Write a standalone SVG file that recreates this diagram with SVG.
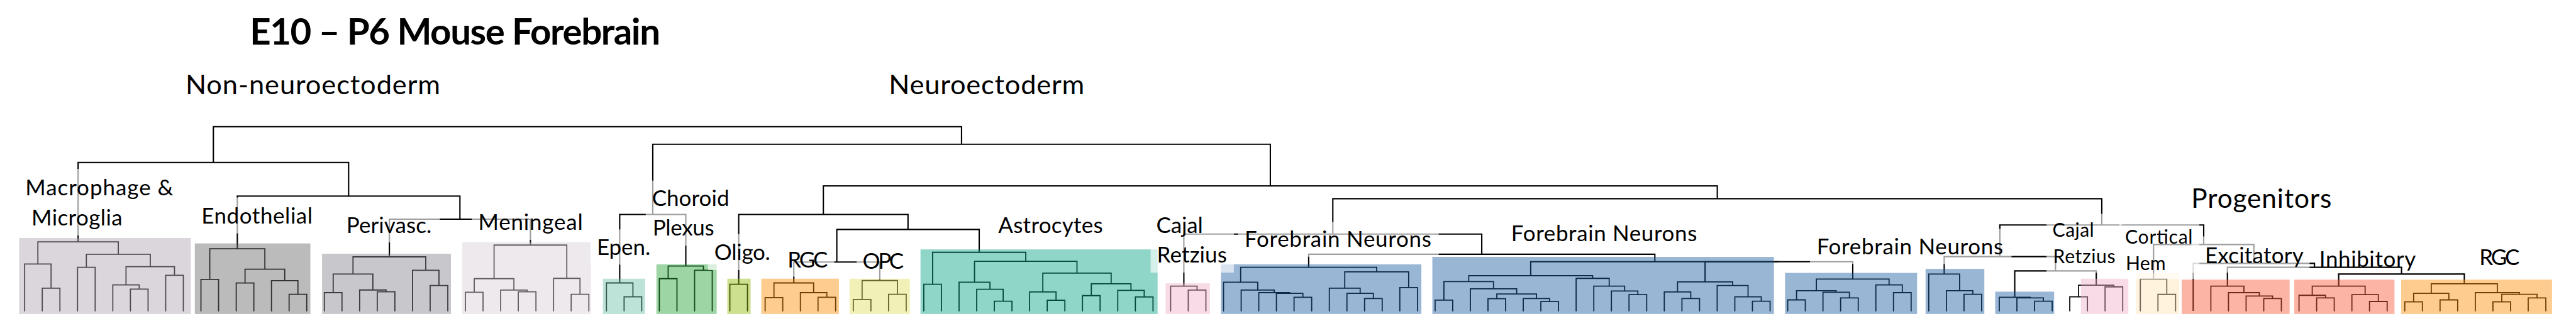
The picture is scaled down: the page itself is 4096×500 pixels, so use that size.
<svg xmlns="http://www.w3.org/2000/svg" width="4096" height="500" viewBox="0 0 4096 500">
<style>
.t{font-family:Lato,"Liberation Sans",sans-serif;font-size:66px;fill:#000}
.ts{font-size:57px}
.cn{fill:none;stroke:#000;stroke-width:4}
.ln{fill:none;stroke:#000;stroke-width:3.4;stroke-linecap:round}
.b{fill-opacity:0.45}
.tb{fill:#fff;fill-opacity:0.62}
</style>
<rect width="4096" height="500" fill="#fff"/>
<g transform="scale(0.52954)">
<g id="connectors" class="cn">
<path d="M640.7 488.6V381H2887.3V433.8"/>
<path d="M234.5 727.4V488.6H1046.8V589.6"/>
<path d="M712.6 748V589.6H1381V659"/>
<path d="M1169.2 772.4V659H1592.8V737"/>
<path d="M1960.1 645V433.8H3814.5V559"/>
<path d="M1860.8 850.7V645H2059.3V800"/>
<path d="M2472.3 645V559H5156.6V597.4"/>
<path d="M2218.1 854.7V645H2726.5V690"/>
<path d="M2512.7 788V690H2940.3V758.7"/>
<path d="M2383.6 850.7V788H2641.7V843.7"/>
<path d="M4002.1 704V597.4H6311.1V676.5"/>
<path d="M3554.8 860.5V704H4449.3V764.6"/>
<path d="M3929.6 803.8V764.6H4969V787"/>
<path d="M4596.3 829V787H5341.6"/>
<path d="M5119.9 847.6V787H5563.3V839"/>
<path d="M6005 771.7V676.5H6617.1V735.3"/>
<path d="M5837.9 824V771.7H6172.1V814.7"/>
<path d="M6049.7 893.8V814.7H6294.5V857.4"/>
<path d="M6466.5 839V735.3H6767.7V792"/>
<path d="M6585.6 935V792H6949.7V803.8"/>
<path d="M6688.3 860.5V803.8H7211.1V824"/>
<path d="M7022.4 860.5V824H7399.7V853.5"/>
</g>
<g id="macrophage">
<path class="ln" d="M126.9 935V866.4H179.9V935M74 935V794H153.4V866.4M232.8 935V803.8H285.8V935M391.6 935V869.5H444.6V935M338.7 935V856.6H418.1V869.5M497.5 935V828H550.5V935M378.4 856.6V801.8H524V828M259.3 803.8V764.6H451.2V801.8M113.7 794V727.4H355.3V764.6"/>
<rect class="b" x="57.6" y="715.7" width="515.4" height="228.3" fill="#ada4b1"/>
</g>
<g id="endothelial">
<path class="ln" d="M603.4 935V840H656.3V935M709.3 935V850.8H762.2V935M868.1 935V885H921V935M815.2 935V844H894.6V885M735.8 850.8V809.6H854.9V844M629.9 840V748H795.3V809.6"/>
<rect class="b" x="585" y="732" width="347" height="212" fill="#686868"/>
</g>
<g id="perivascular">
<path class="ln" d="M974 935V880H1026.9V935M1132.8 935V877.4H1185.7V935M1079.9 935V872H1159.3V877.4M1000.5 880V824H1119.6V872M1291.6 935V858.6H1344.6V935M1238.7 935V812.8H1318.1V858.6M1060 824V772.4H1278.4V812.8"/>
<rect class="b" x="967" y="763" width="387" height="181" fill="#85838e"/>
</g>
<g id="meningeal">
<path class="ln" d="M1397.5 935V879H1450.4V935M1556.3 935V877.4H1609.3V935M1503.4 935V872.3H1582.8V877.4M1424 879V838H1543.1V872.3M1715.1 935V885H1768.1V935M1662.2 935V837H1741.6V885M1483.6 838V737H1701.9V837"/>
<rect class="b" x="1388" y="728" width="386.6" height="216" fill="#d9ced7"/>
</g>
<g id="ependymal">
<path class="ln" d="M1874 935V892.6H1926.9V935M1821 935V850.7H1900.5V892.6"/>
<rect class="b" x="1810.4" y="838" width="126.6" height="106" fill="#6cc1a8"/>
</g>
<g id="choroid-plexus">
<path class="ln" d="M1979.8 935V838H2032.8V935M2085.7 935V812.8H2138.7V935M2006.3 838V800H2112.2V812.8"/>
<rect class="b" x="1971" y="795" width="181" height="149" fill="#25a435"/>
</g>
<g id="oligodendrocytes">
<path class="ln" d="M2191.6 935V854.7H2244.5V935"/>
<rect class="b" x="2184" y="838" width="70" height="106" fill="#8eba06"/>
</g>
<g id="rgc-1">
<path class="ln" d="M2297.5 935V895H2350.4V935M2456.3 935V894H2509.2V935M2403.4 935V880H2482.8V894M2324 895V850.7H2443.1V880"/>
<rect class="b" x="2286" y="838" width="233" height="106" fill="#fb8e04"/>
</g>
<g id="opc">
<path class="ln" d="M2562.2 935V900.5H2615.1V935M2668.1 935V885H2721V935M2588.7 900.5V843.7H2694.6V885"/>
<rect class="b" x="2551" y="838" width="181" height="106" fill="#e0de5d"/>
</g>
<g id="astrocytes">
<path class="ln" d="M2773.9 935V854.7H2826.9V935M2985.7 935V905.6H3038.6V935M2932.8 935V870H3012.2V905.6M2879.8 935V848.8H2972.5V870M3144.5 935V903H3197.5V935M3091.6 935V878H3171V903M3250.4 935V889H3303.3V935M3409.2 935V893H3462.2V935M3356.3 935V873H3435.7V893M3276.9 889V853.5H3396V873M3131.3 878V821.4H3336.5V853.5M2926.2 848.8V786H3233.9V821.4M2800.4 854.7V758.7H3080.1V786"/>
<rect class="b" x="2764" y="750" width="712" height="194" fill="#08a485"/>
</g>
<g id="cajal-retzius-1">
<path class="ln" d="M3568 935V872.3H3621V935M3515.1 935V860.5H3594.5V872.3"/>
<rect class="b" x="3500" y="852" width="133" height="92" fill="#edafc7"/>
</g>
<g id="forebrain-neurons-a">
<path class="ln" d="M3885.7 935V893.8H3938.6V935M3832.7 935V882H3912.2V893.8M3779.8 935V880H3872.5V882M3726.9 935V872.3H3826.2V880M3673.9 935V848.8H3776.6V872.3M4097.4 935V897.7H4150.4V935M4044.5 935V882H4123.9V897.7M3991.6 935V866.4H4084.2V882M4203.3 935V864.5H4256.3V935M4037.9 866.4V817.5H4229.8V864.5M3725.3 848.8V803.8H4133.9V817.5"/>
<rect class="b" x="3666" y="795" width="602" height="149" fill="#1c5d9f"/>
</g>
<g id="forebrain-neurons-b">
<path class="ln" d="M4309.2 935V902.4H4362.1V935M4468 935V898H4521V935M4626.8 935V906.7H4679.8V935M4573.9 935V897.7H4653.3V906.7M4494.5 898V884H4613.6V897.7M4415.1 935V868.4H4554.1V884M4335.7 902.4V846.8H4484.6V868.4M4891.5 935V886H4944.5V935M4838.6 935V875H4918V886M4785.7 935V860.5H4878.3V875M4732.7 935V837H4832V860.5M4410.2 846.8V829H4782.4V837M5050.4 935V897.7H5103.3V935M4997.4 935V878H5076.9V897.7M5262.1 935V905.6H5315.1V935M5209.2 935V892.6H5288.6V905.6M5156.2 935V858.6H5248.9V892.6M5037.2 878V847.6H5202.6V858.6"/>
<rect class="b" x="4301" y="772.5" width="1025.6" height="171.5" fill="#1c5d9f"/>
</g>
<g id="forebrain-neurons-c">
<path class="ln" d="M5368 935V901.7H5420.9V935M5526.8 935V895.8H5579.8V935M5473.9 935V879H5553.3V895.8M5394.5 901.7V874.2H5513.6V879M5685.6 935V880H5738.6V935M5632.7 935V856.6H5712.1V880M5454.1 874.2V839H5672.4V856.6"/>
<rect class="b" x="5360" y="820.6" width="396.5" height="123.4" fill="#1c5d9f"/>
</g>
<g id="forebrain-neurons-d">
<path class="ln" d="M5897.4 935V885H5950.3V935M5844.5 935V874H5923.9V885M5791.5 935V824H5884.2V874"/>
<rect class="b" x="5782" y="808.5" width="176.4" height="135.5" fill="#1c5d9f"/>
</g>
<g id="forebrain-neurons-e">
<path class="ln" d="M6109.2 935V905.6H6162.1V935M6056.2 935V895.8H6135.7V905.6M6003.3 935V893.8H6096V895.8"/>
<rect class="b" x="5991" y="877" width="177" height="67" fill="#1c5d9f"/>
</g>
<g id="cajal-retzius-2">
<path class="ln" d="M6215 935V892.6H6268V935M6320.9 935V862.5H6373.9V935M6241.5 892.6V857.4H6347.4V862.5"/>
<rect class="b" x="6248.4" y="838" width="142.6" height="106" fill="#edafc7"/>
</g>
<g id="cortical-hem">
<path class="ln" d="M6479.7 935V885.2H6532.7V935M6426.8 935V839H6506.2V885.2"/>
<rect class="b" x="6414" y="820.6" width="130" height="123.4" fill="#ffe4b6"/>
</g>
<g id="excitatory">
<path class="ln" d="M6797.4 935V897.7H6850.3V935M6744.4 935V890H6823.9V897.7M6691.5 935V880H6784.2V890M6638.6 935V860.5H6737.9V880"/>
<rect class="b" x="6551" y="841" width="324" height="103" fill="#f85835"/>
</g>
<g id="inhibitory">
<path class="ln" d="M6956.2 935V895.8H7009.1V935M6903.3 935V888H6982.7V895.8M7115 935V906.4H7168V935M7062.1 935V886H7141.5V906.4M6943 888V860.5H7101.8V886"/>
<rect class="b" x="6889" y="841" width="301" height="103" fill="#f85835"/>
</g>
<g id="rgc-2">
<path class="ln" d="M7220.9 935V907.5H7273.8V935M7326.8 935V901.7H7379.7V935M7247.4 907.5V882H7353.3V901.7M7485.6 935V907.5H7538.5V935M7591.5 935V895.8H7644.4V935M7512.1 907.5V885H7618V895.8M7432.7 935V880H7565.1V885M7300.4 882V853.5H7498.9V880"/>
<rect class="b" x="7210" y="841" width="453" height="103" fill="#fb8e04"/>
</g>
<g id="label-boxes">
<rect class="tb" x="60" y="508" width="470" height="200"/>
<rect class="tb" x="592" y="594" width="355" height="108"/>
<rect class="tb" x="1030" y="652" width="291" height="77"/>
<rect class="tb" x="1417" y="652" width="357" height="70"/>
<rect class="tb" x="1772" y="690" width="188" height="106"/>
<rect class="tb" x="1939" y="543" width="261" height="196"/>
<rect class="tb" x="2126" y="704" width="199" height="108"/>
<rect class="tb" x="2355" y="760" width="150" height="72"/>
<rect class="tb" x="2572" y="770" width="155" height="69"/>
<rect class="tb" x="3455" y="655" width="250" height="165"/>
<rect class="tb" x="3718" y="667" width="602" height="105"/>
<rect class="tb" x="5435" y="688" width="605" height="106"/>
<rect class="tb" x="6145" y="643" width="226" height="177"/>
<rect class="tb" x="6364" y="650" width="240" height="189"/>
<rect class="tb" x="6580" y="711" width="355" height="109"/>
</g>
<g id="labels" class="t">
<text x="750" y="135" font-weight="bold" font-size="110" textLength="1233">E10 – P6 Mouse Forebrain</text>
<text x="557" y="283" font-size="82" textLength="765">Non-neuroectoderm</text>
<text x="2669" y="283" font-size="82" textLength="587">Neuroectoderm</text>
<text x="6580" y="625.6" font-size="80" textLength="421">Progenitors</text>
<text x="76" y="588" textLength="444">Macrophage &amp;</text>
<text x="94.6" y="678" textLength="273">Microglia</text>
<text x="604.7" y="672.6" textLength="334">Endothelial</text>
<text x="1040" y="700" textLength="256">Perivasc.</text>
<text x="1436" y="691" textLength="314">Meningeal</text>
<text x="1792" y="766.6" textLength="161">Epen.</text>
<text x="1957.6" y="619.7" textLength="232">Choroid</text>
<text x="1959.7" y="709" textLength="185">Plexus</text>
<text x="2145" y="782" textLength="168">Oligo.</text>
<text x="2365" y="803.8" textLength="121">RGC</text>
<text x="2590" y="807.7" textLength="124">OPC</text>
<text x="2997.5" y="700" textLength="314">Astrocytes</text>
<text x="3472" y="700" textLength="140">Cajal</text>
<text x="3474" y="789" textLength="210">Retzius</text>
<text x="3737" y="743" textLength="561">Forebrain Neurons</text>
<text x="4537.6" y="726" textLength="558">Forebrain Neurons</text>
<text x="5455" y="765.4" textLength="560">Forebrain Neurons</text>
<text x="6163" y="711.8" class="ts" textLength="125">Cajal</text>
<text x="6165" y="792" class="ts" textLength="187">Retzius</text>
<text x="6381" y="733.3" class="ts" textLength="203">Cortical</text>
<text x="6383" y="812.4" class="ts" textLength="120">Hem</text>
<text x="6620.7" y="792" textLength="296">Excitatory</text>
<text x="6964" y="801.8" textLength="290">Inhibitory</text>
<text x="7444.6" y="796.7" textLength="121">RGC</text>
</g>
</g>
</svg>
